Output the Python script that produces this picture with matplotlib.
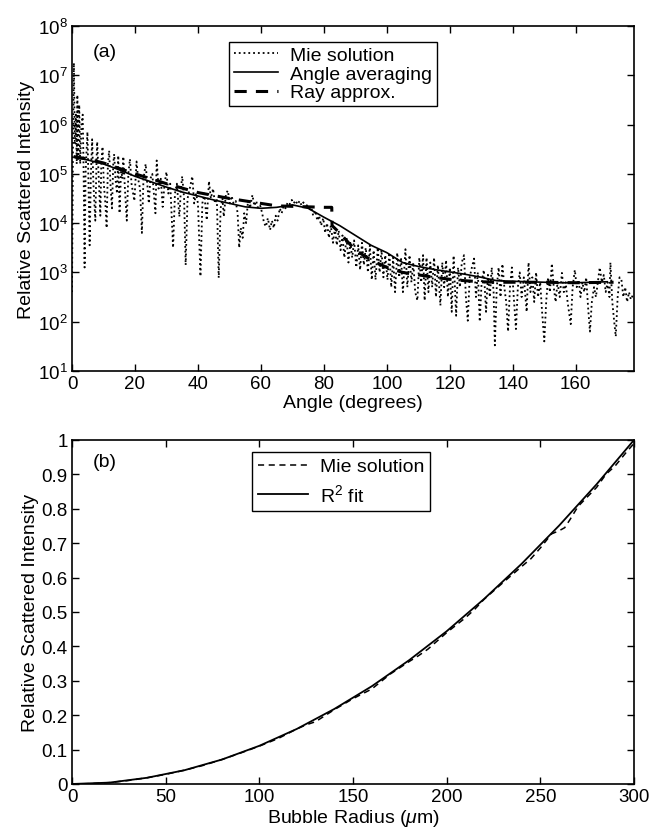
import matplotlib
matplotlib.use("Agg")
import matplotlib.pyplot as plt
import numpy as np

plt.rcParams['font.family'] = ['Liberation Sans', 'DejaVu Sans']
plt.rcParams['mathtext.fontset'] = 'custom'
plt.rcParams['mathtext.rm'] = 'Liberation Sans'
plt.rcParams['mathtext.it'] = 'Liberation Sans:italic'

# ---- panel (a): intensity vs angle, values as log10 exponents
mie_angle = [0.0, 0.3, 0.6, 0.9, 1.2, 1.5, 1.7, 2.0, 2.3, 2.6, 3.0, 3.4, 3.7, 4.0, 4.3,
             4.9, 5.3, 5.6, 6.0, 6.4, 6.8, 7.4, 7.8, 8.0, 8.5, 9.0, 9.3, 9.7, 10.1, 10.6,
             11.0, 11.4, 11.8, 12.2, 12.7, 13.1, 13.4, 13.8, 14.3, 14.7, 15.1, 15.6, 16.0,
             16.3, 16.8, 17.4, 17.9, 18.4, 18.9, 19.4, 19.8, 20.5, 21.0, 21.6, 22.2, 22.7,
             23.4, 23.9, 24.4, 24.9, 25.5, 26.0, 26.5, 26.9, 27.5, 28.2, 28.8, 29.4, 30.0,
             30.6, 31.2, 32.1, 32.7, 33.3, 34.1, 34.6, 35.0, 35.6, 36.1, 36.7, 37.4, 38.2,
             38.8, 39.4, 40.0, 40.8, 41.4, 42.0, 42.8, 43.5, 44.1, 44.8, 45.4, 46.0, 46.6,
             47.2, 47.8, 48.2, 48.9, 49.5, 50.1, 50.7, 51.3, 52.0, 52.6, 53.1, 53.6, 54.2,
             54.7, 55.3, 55.9, 56.5, 57.3, 57.9, 58.5, 59.1, 59.8, 60.4, 61.0, 61.6, 62.2,
             62.9, 63.5, 64.1, 64.7, 65.3, 66.0, 66.6, 67.2, 67.8, 68.5, 69.1, 69.8, 70.4,
             71.0, 71.6, 72.3, 72.9, 73.5, 74.1, 74.8, 75.4, 76.0, 76.6, 77.3, 77.9, 78.5,
             79.1, 79.8, 80.4, 81.0, 81.6, 82.2, 82.9, 83.5, 84.1, 84.7, 85.3, 85.9, 86.5,
             87.2, 87.8, 88.4, 89.0, 89.6, 90.3, 90.9, 91.5, 92.1, 92.7, 93.3, 94.0, 94.6,
             95.2, 95.8, 96.4, 97.1, 97.7, 98.3, 98.9, 99.5,
             100.2, 100.8, 101.4, 102.0, 102.6, 103.3, 103.9, 104.5, 105.1, 105.9, 106.5,
             107.2, 107.8, 108.4, 109.0, 109.7, 110.3, 110.9, 111.5, 112.0, 112.6, 113.2,
             113.8, 114.4, 115.0, 115.6, 116.2, 117.0, 117.6, 118.2, 118.8, 119.4, 120.0,
             120.6, 121.2, 122.0, 122.6, 123.2, 123.8, 124.5, 125.1, 125.7, 126.3, 127.0,
             127.7, 128.3, 128.9, 129.5, 130.1, 130.8, 131.5, 132.1, 132.7, 133.3, 133.9,
             134.3, 134.9, 135.5, 136.1, 136.7, 137.3, 137.9, 138.5, 139.1, 139.7, 140.3,
             141.0, 141.6, 142.2, 142.8, 143.5, 144.4, 145.0, 145.6, 146.2, 146.8, 147.4,
             148.0, 148.7, 149.3, 150.0, 150.6, 151.2, 151.8, 152.4, 153.0, 153.6, 154.2,
             154.9, 155.6, 156.2, 156.8, 157.4, 158.4, 159.0, 159.7, 160.3, 160.9, 161.5,
             162.1, 162.7, 163.3, 163.9, 164.5, 165.1, 165.8, 166.4, 167.0, 167.6, 168.3,
             168.9, 169.5, 170.1, 170.7, 171.0, 171.6, 172.2, 172.7, 173.3, 173.9, 174.5,
             175.1, 175.7, 176.3, 176.9, 177.5, 178.2]
mie_exp = [2.6, 5.5, 7.25, 5.6, 6.2, 5.2, 6.6, 5.3, 6.4, 5.2, 6.0, 6.2, 5.0, 3.1, 5.0,
           5.85, 4.6, 3.55, 5.0, 5.7, 4.8, 4.05, 5.3, 5.65, 4.9, 4.15, 5.2, 5.55, 4.8, 4.4,
           3.9, 5.2, 5.47, 4.8, 4.3, 5.2, 5.4, 4.9, 4.6, 5.37, 4.2, 5.1, 4.9,
           5.35, 4.7, 4.05, 5.0, 5.3, 4.8, 4.6, 4.45, 5.25, 4.9, 4.7, 3.8, 4.9,
           5.2, 4.8, 4.4, 4.9, 5.0, 4.6, 4.2, 5.27, 4.7, 4.9, 4.33, 4.8, 5.04,
           4.6, 4.8, 3.5, 4.6, 4.8, 4.13, 4.7, 4.95, 4.5, 3.15, 4.5, 4.7, 4.95,
           4.4, 4.6, 4.4, 2.92, 4.4, 4.6, 4.06, 4.85, 4.5, 4.7, 4.4, 4.5, 2.89,
           4.3, 4.5, 4.13, 4.6, 4.66, 4.4, 4.55, 4.4, 4.45, 4.2, 3.5, 3.9, 3.7,
           4.2, 4.0, 4.45, 4.3, 4.57, 4.35, 4.45, 4.3, 4.35, 4.2, 4.0, 3.93, 4.1,
           3.86, 4.05, 3.9, 4.15, 4.05, 4.3, 4.2, 4.35, 4.3, 4.42, 4.38, 4.47, 4.4,
           4.46, 4.38, 4.45, 4.36, 4.42, 4.3, 4.38, 4.25, 4.32, 4.15, 4.25, 4.05, 4.15,
           3.95, 4.1, 3.8, 4.0, 3.7, 3.95, 3.6, 3.9, 3.55, 3.85, 3.45, 3.75, 3.3,
           3.7, 3.2, 3.6, 3.3, 3.65, 3.1, 3.55, 3.05, 3.6, 3.15, 3.5, 3.0, 3.55,
           2.85, 3.45, 2.85, 3.5, 3.0, 3.45, 2.9, 3.35,
           2.85, 3.4, 2.7, 3.3, 2.6, 3.4, 2.9, 3.3, 2.6, 3.47, 2.7,
           3.35, 2.8, 3.2, 2.6, 2.43, 3.3, 2.8, 3.35, 2.43, 3.3, 2.6,
           3.2, 2.7, 3.3, 2.5, 3.15, 2.33, 3.2, 2.7, 3.25, 2.5, 3.1,
           2.2, 3.34, 2.12, 3.1, 2.7, 3.2, 3.35, 2.5, 2.02, 2.9, 3.1,
           3.28, 2.5, 3.0, 2.0, 2.8, 3.05, 2.2, 2.95, 2.5, 3.1, 2.6,
           1.52, 2.7, 3.1, 2.5, 3.17, 2.7, 2.4, 1.8, 2.7, 3.1, 2.5,
           1.85, 2.7, 3.0, 2.5, 2.9, 2.2, 3.2, 2.6, 2.9, 2.4, 3.0,
           2.5, 2.8, 2.2, 1.6, 2.4, 2.9, 2.6, 3.18, 2.7, 2.4, 2.8,
           2.5, 2.99, 2.6, 2.8, 2.4, 1.95, 2.7, 3.05, 2.7, 2.85, 2.5,
           2.8, 2.6, 2.9, 2.3, 1.8, 2.4, 2.7, 2.5, 2.8, 3.1, 2.8,
           2.95, 2.6, 2.8, 2.5, 3.2, 2.4, 2.0, 1.7, 2.5, 2.9, 2.85,
           2.5, 2.7, 2.4, 2.6, 2.45, 2.55]

avg_angle = [1, 5, 10, 15, 20, 25, 30, 35, 40, 45, 50, 55, 60, 65, 70, 75, 80, 85, 90,
             95, 100, 105, 110, 115, 120, 125, 130, 135, 140, 145, 150, 155, 160, 165, 170]
avg_exp = [5.33, 5.28, 5.2, 5.08, 4.95, 4.84, 4.73, 4.63, 4.55, 4.47, 4.4, 4.33, 4.3,
           4.32, 4.37, 4.3, 4.12, 3.95, 3.75, 3.55, 3.4, 3.2, 3.12, 3.06, 3.01, 2.96,
           2.9, 2.83, 2.82, 2.81, 2.8, 2.79, 2.79, 2.8, 2.81]

ray_angle = [0.5, 5, 10, 20, 30, 40, 50, 55, 60, 65, 70, 75, 80, 82.5, 82.6, 85, 90, 95,
             100, 105, 110, 115, 120, 125, 130, 135, 140, 150, 160, 172]
ray_exp = [5.35, 5.3, 5.22, 5.0, 4.8, 4.62, 4.5, 4.45, 4.4, 4.35, 4.34, 4.33, 4.32, 4.32,
           3.95, 3.8, 3.45, 3.25, 3.1, 3.0, 2.95, 2.9, 2.86, 2.83, 2.81, 2.8, 2.8, 2.8,
           2.79, 2.8]

# ---- panel (b): intensity vs bubble radius
fit_radius = [0, 20, 40, 60, 80, 100, 120, 140, 160, 180, 200, 220, 240, 260, 280, 300]
fit_value = [0, 0.004, 0.018, 0.04, 0.071, 0.111, 0.16, 0.218, 0.284, 0.36, 0.444, 0.538,
             0.64, 0.751, 0.871, 1.0]

mie_radius = [0, 10, 20, 30, 40, 50, 60, 70, 80, 90, 100, 110, 120, 125, 130, 140, 150,
              155, 160, 170, 180, 185, 190, 200, 210, 215, 220, 230, 240, 245, 250, 256,
              260, 263, 266, 270, 280, 285, 290, 296, 300]
mie_value = [0, 0.001, 0.004, 0.01, 0.018, 0.028, 0.04, 0.054, 0.071, 0.09, 0.11, 0.132,
             0.16, 0.172, 0.181, 0.216, 0.248, 0.262, 0.276, 0.32, 0.356, 0.373, 0.392,
             0.44, 0.483, 0.508, 0.537, 0.585, 0.632, 0.655, 0.686, 0.727, 0.736, 0.745,
             0.77, 0.806, 0.862, 0.9, 0.925, 0.965, 0.99]

fig = plt.figure(figsize=(6.63, 8.29), dpi=100)
ax1 = fig.add_axes([0.1086, 0.5513, 0.8477, 0.4162])
ax2 = fig.add_axes([0.1086, 0.0531, 0.8477, 0.415])

ax1.plot(mie_angle, np.power(10.0, mie_exp), ':', color='black', lw=1.3, label='Mie solution')
ax1.plot(avg_angle, np.power(10.0, avg_exp), '-', color='black', lw=1.2, label='Angle averaging')
ax1.plot(ray_angle, np.power(10.0, ray_exp), '--', color='black', lw=2.2, dashes=(4, 3),
         label='Ray approx.')
ax1.set_yscale('log')
ax1.set_xlim(0, 178.5)
ax1.set_ylim(1e1, 1e8)
ax1.set_xticks(np.arange(0, 161, 20))
ax1.set_yticks([10.0 ** k for k in range(1, 9)])
ax1.yaxis.set_minor_locator(matplotlib.ticker.NullLocator())
ax1.set_xlabel('Angle (degrees)', fontsize=14, labelpad=1)
ax1.set_ylabel('Relative Scattered Intensity', fontsize=14, labelpad=2)
ax1.text(0.037, 0.925, '(a)', transform=ax1.transAxes, fontsize=14, va='center')
ax1.legend(loc='upper left', bbox_to_anchor=(0.279, 0.954), fontsize=14, frameon=True,
           fancybox=False, edgecolor='black', framealpha=1, borderpad=0.25,
           labelspacing=0.05, handlelength=2.3, handletextpad=0.6, borderaxespad=0)

ax2.plot(mie_radius, mie_value, '--', color='black', lw=1.1, dashes=(4, 3), label='Mie solution')
ax2.plot(fit_radius, fit_value, '-', color='black', lw=1.3, label='R$^2$ fit')
ax2.set_xlim(0, 300)
ax2.set_ylim(0, 1)
ax2.set_xticks(np.arange(0, 301, 50))
ax2.set_yticks(np.round(np.arange(0, 1.01, 0.1), 1))
ax2.set_yticklabels(['0', '0.1', '0.2', '0.3', '0.4', '0.5', '0.6', '0.7', '0.8', '0.9', '1'])
ax2.set_xlabel('Bubble Radius ($\\mu$m)', fontsize=14, labelpad=1)
ax2.set_ylabel('Relative Scattered Intensity', fontsize=14, labelpad=2)
ax2.text(0.037, 0.936, '(b)', transform=ax2.transAxes, fontsize=14, va='center')
ax2.legend(loc='upper left', bbox_to_anchor=(0.32, 0.965), fontsize=14, frameon=True,
           fancybox=False, edgecolor='black', framealpha=1, borderpad=0.3,
           labelspacing=0.4, handlelength=2.6, handletextpad=0.6, borderaxespad=0)

for ax in (ax1, ax2):
    ax.tick_params(direction='in', top=True, right=True, length=5, width=1,
                   labelsize=13.5, pad=3)
    for s in ax.spines.values():
        s.set_linewidth(1.2)
    ax.get_legend().get_frame().set_linewidth(1.0)

fig.savefig('out.png', dpi=100)
